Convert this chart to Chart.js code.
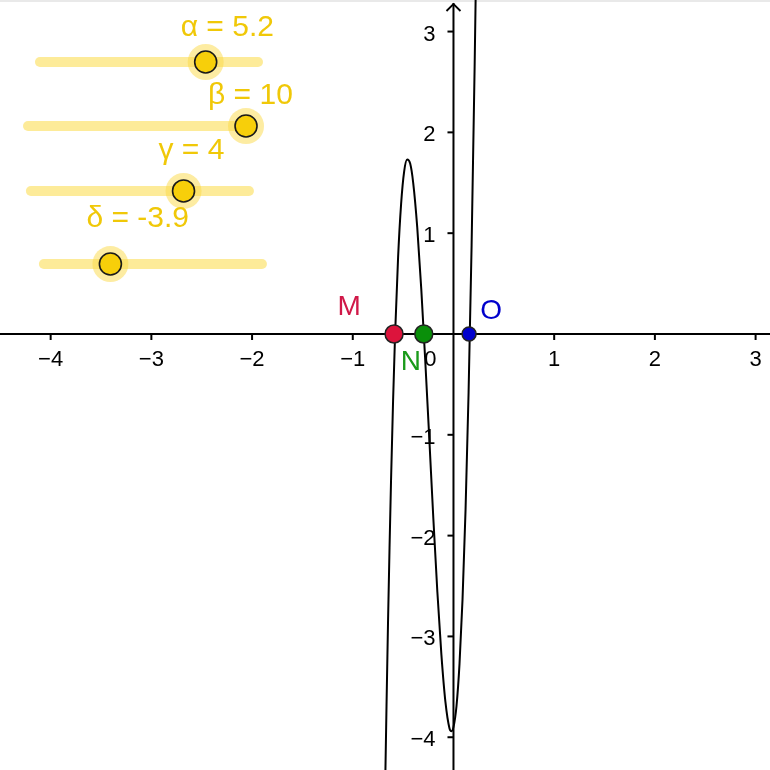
<!DOCTYPE html>
<html>
<head>
<meta charset="utf-8">
<script src="https://cdn.jsdelivr.net/npm/chart.js@4.4.1/dist/chart.umd.min.js"></script>
<style>
  html, body { margin: 0; padding: 0; background: #fff; overflow: hidden; }
  #wrap { width: 770px; height: 770px; position: relative; }
</style>
</head>
<body>
<div id="wrap"><canvas id="chart" width="770" height="770"></canvas></div>
<script>
// visible window, graph units
const xRange = [-4.503, 3.143]
const yRange = [-4.325, 3.313]

// axis ticks
const xTicks = [-4, -3, -2, -1, 1, 2, 3]
const yTicks = [-4, -3, -2, -1, 1, 2, 3]

// the cubic
const curveX = [-0.69, -0.68, -0.665, -0.65, -0.635, -0.62, -0.60, -0.58, -0.55, -0.52,
  -0.49, -0.46, -0.43, -0.40, -0.36, -0.32, -0.28, -0.24, -0.20, -0.16,
  -0.12, -0.08, -0.04, -0.02, 0.00, 0.03, 0.06, 0.09, 0.12, 0.15, 0.18, 0.21, 0.23]
const curveY = [-5.24, -4.59, -3.69, -2.86, -2.12, -1.45, -0.67, -0.01, 0.76, 1.29,
  1.61, 1.73, 1.69, 1.50, 1.06, 0.45, -0.27, -1.04, -1.83, -2.56,
  -3.18, -3.65, -3.91, -3.94, -3.90, -3.69, -3.27, -2.63, -1.74, -0.58, 0.88, 2.65, 4.02]

// roots
const pointNames = ["M", "N", "O"]
const pointX = [-0.59, -0.295, 0.155]
const pointY = [0, 0, 0]

// sliders
const sliderNames = ["α", "β", "γ", "δ"]
const sliderValues = [5.2, 10, 4, -3.9]
const sliderMin = -10
const sliderMax = 10

// --- layout / style (not data) ---
const sliderLayout = [
  { x0: -4.106, y: 2.698, len: 2.165, dx: -25, dy: -34 },
  { x0: -4.225, y: 2.063, len: 2.165, dx: -38, dy: -30 },
  { x0: -4.196, y: 1.419, len: 2.165, dx: -25, dy: -40 },
  { x0: -4.067, y: 0.694, len: 2.165, dx: -24, dy: -45 },
]
const pointStyle = [
  { fill: "#DC143C", text: "#D01848", r: 9, dx: -45, dy: -27 },
  { fill: "#0A8F0A", text: "#1A9A1A", r: 9, dx: -13, dy: 28 },
  { fill: "#0000CC", text: "#0000CC", r: 7, dx: 22, dy: -23 },
]
const FONT = '"Liberation Sans", Arial, sans-serif'
const GOLD = "#F7CF0A"
const GOLD_TEXT = "#F0C808"

function knobX(i) {
  const s = sliderLayout[i]
  return s.x0 + (sliderValues[i] - sliderMin) / (sliderMax - sliderMin) * s.len
}

function tickText(t) {
  return t < 0 ? "\u2212" + Math.abs(t) : String(t)
}

// axes drawn under the datasets, labels over them
const axesPlugin = {
  id: "axes",
  beforeDatasetsDraw(chart) {
    const { ctx, scales: { x, y } } = chart
    const ox = x.getPixelForValue(0)
    const oy = y.getPixelForValue(0)
    ctx.save()
    ctx.fillStyle = "#e9e9e9"
    ctx.fillRect(0, 0, chart.width, 2)

    ctx.strokeStyle = "#000"
    ctx.lineWidth = 2
    ctx.beginPath()
    ctx.moveTo(0, oy)
    ctx.lineTo(chart.width, oy)
    ctx.moveTo(ox, chart.height)
    ctx.lineTo(ox, 3)
    ctx.stroke()
    // arrow on the y axis
    ctx.lineWidth = 1.8
    ctx.beginPath()
    ctx.moveTo(ox - 7, 11)
    ctx.lineTo(ox, 4)
    ctx.lineTo(ox + 7, 11)
    ctx.stroke()

    ctx.lineWidth = 2
    ctx.fillStyle = "#000"
    ctx.font = "22px " + FONT
    ctx.textBaseline = "middle"
    ctx.textAlign = "center"
    xTicks.forEach((t) => {
      const px = x.getPixelForValue(t)
      ctx.beginPath()
      ctx.moveTo(px, oy)
      ctx.lineTo(px, oy + 6)
      ctx.stroke()
      ctx.fillText(tickText(t), px, oy + 26)
    })
    ctx.textAlign = "right"
    ctx.fillText("0", ox - 17, oy + 26)
    yTicks.forEach((t) => {
      const py = y.getPixelForValue(t)
      ctx.beginPath()
      ctx.moveTo(ox - 6, py)
      ctx.lineTo(ox, py)
      ctx.stroke()
      ctx.fillText(tickText(t), ox - 18, py + 3)
    })
    ctx.restore()
  },
  afterDatasetsDraw(chart) {
    const { ctx, scales: { x, y } } = chart
    ctx.save()
    ctx.textBaseline = "middle"
    ctx.textAlign = "center"
    ctx.font = "28px " + FONT
    pointNames.forEach((name, i) => {
      const s = pointStyle[i]
      ctx.fillStyle = s.text
      ctx.fillText(name, x.getPixelForValue(pointX[i]) + s.dx, y.getPixelForValue(pointY[i]) + s.dy)
    })
    ctx.textAlign = "left"
    ctx.font = "30px " + FONT
    ctx.fillStyle = GOLD_TEXT
    sliderNames.forEach((name, i) => {
      const s = sliderLayout[i]
      const label = name + " = " + String(sliderValues[i])
      ctx.fillText(label, x.getPixelForValue(knobX(i)) + s.dx, y.getPixelForValue(s.y) + s.dy)
    })
    ctx.restore()
  },
}

const trackSets = sliderLayout.map((s) => ({
  type: "line",
  data: [{ x: s.x0, y: s.y }, { x: s.x0 + s.len, y: s.y }],
  borderColor: "rgba(252,218,70,0.55)",
  borderWidth: 10,
  borderCapStyle: "round",
  pointRadius: 0,
  order: 50,
}))

const datasets = [
  {
    type: "scatter",
    data: pointX.map((v, i) => ({ x: v, y: pointY[i] })),
    pointRadius: pointStyle.map((s) => s.r),
    pointBackgroundColor: pointStyle.map((s) => s.fill),
    pointBorderColor: "#222",
    pointBorderWidth: 1.5,
    order: 10,
  },
  {
    type: "line",
    data: curveX.map((v, i) => ({ x: v, y: curveY[i] })),
    borderColor: "#000",
    borderWidth: 2,
    pointRadius: 0,
    cubicInterpolationMode: "monotone",
    order: 20,
  },
  {
    type: "scatter",
    data: sliderLayout.map((s, i) => ({ x: knobX(i), y: s.y })),
    pointRadius: 11,
    pointBackgroundColor: GOLD,
    pointBorderColor: "#1a1a1a",
    pointBorderWidth: 1.6,
    order: 30,
  },
  {
    type: "scatter",
    data: sliderLayout.map((s, i) => ({ x: knobX(i), y: s.y })),
    pointRadius: 18,
    pointBackgroundColor: "rgba(252,218,70,0.5)",
    pointBorderWidth: 0,
    order: 40,
  },
  ...trackSets,
]

new Chart(document.getElementById("chart"), {
  type: "scatter",
  data: { datasets },
  options: {
    responsive: false,
    devicePixelRatio: 1,
    animation: false,
    layout: { padding: 0, autoPadding: false },
    plugins: { legend: { display: false }, tooltip: { enabled: false } },
    scales: {
      x: { type: "linear", min: xRange[0], max: xRange[1], display: false },
      y: { type: "linear", min: yRange[0], max: yRange[1], display: false },
    },
  },
  plugins: [axesPlugin],
})
</script>
</body>
</html>
